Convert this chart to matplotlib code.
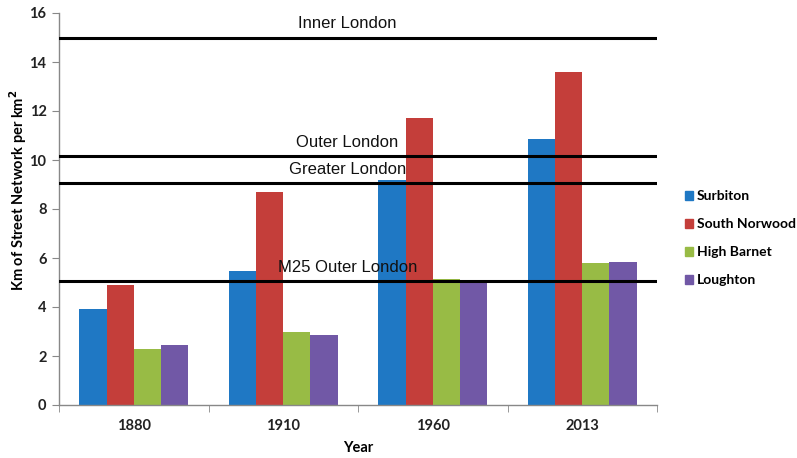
import matplotlib
matplotlib.use("Agg")
import matplotlib.pyplot as plt
import numpy as np
from matplotlib.patches import Patch

years = ["1880", "1910", "1960", "2013"]
series_names = ["Surbiton", "South Norwood", "High Barnet", "Loughton"]
surbiton = [3.9, 5.45, 9.2, 10.85]
south_norwood = [4.9, 8.7, 11.7, 13.6]
high_barnet = [2.3, 3.0, 5.15, 5.8]
loughton = [2.45, 2.85, 5.0, 5.85]
colors = ["#1f78c4", "#c43e3a", "#98bb45", "#7158a6"]

ref_names = ["Inner London", "Outer London", "Greater London", "M25 Outer London"]
ref_values = [15.0, 10.15, 9.05, 5.05]

fig = plt.figure(figsize=(7.97, 4.58), dpi=100)
ax = fig.add_axes([59/797, 53/458, (657-59)/797, (405-13)/458])

x = np.arange(len(years))
w = 0.182
series = [surbiton, south_norwood, high_barnet, loughton]
for i, (vals, c) in enumerate(zip(series, colors)):
    ax.bar(x + (i - 1.5) * w, vals, width=w, color=c, zorder=2)

for name, v in zip(ref_names, ref_values):
    ax.axhline(v, color="black", lw=2.2, zorder=3)
    ax.text(1.43, v + 0.25, name, ha="center", va="bottom",
            fontsize=12, family="Liberation Sans", color="#111111", zorder=4)

ax.set_xlim(-0.5, 3.5)
ax.set_ylim(0, 16)
ax.set_yticks(range(0, 17, 2))
ax.set_xticks(x)
ax.set_xticklabels(years)
ax.set_xticks(np.arange(-0.5, 4.0, 1.0), minor=True)
ax.tick_params(axis="x", which="major", length=0, pad=10)
ax.tick_params(axis="x", which="minor", length=5, color="#888888", direction="out")
ax.tick_params(axis="y", length=5, color="#888888", pad=4)
for lab in ax.get_xticklabels() + ax.get_yticklabels():
    lab.set_fontweight("bold")
    lab.set_fontsize(10.5)
    lab.set_family("Lato")
    lab.set_color("#222222")

for s in ["top", "right"]:
    ax.spines[s].set_visible(False)
for s in ["left", "bottom"]:
    ax.spines[s].set_color("#888888")
    ax.spines[s].set_linewidth(1.0)

ax.set_xlabel("Year", fontweight="bold", fontsize=10.5, family="Lato", labelpad=6)
ax.set_ylabel("Km of Street Network per km$^\\mathbf{2}$", fontweight="bold",
              fontsize=10.5, family="Lato")
ax.yaxis.set_label_coords(-0.05, 0.548)

handles = [Patch(color=c) for c in colors]
fig.legend(handles, series_names, loc="upper left", bbox_to_anchor=(672/797, 1 - 178/458),
           frameon=False, handlelength=0.6, handleheight=0.6, handletextpad=0.3,
           labelspacing=1.15, prop={"family": "Lato", "weight": "bold", "size": 10})

fig.savefig("out.png", dpi=100)
